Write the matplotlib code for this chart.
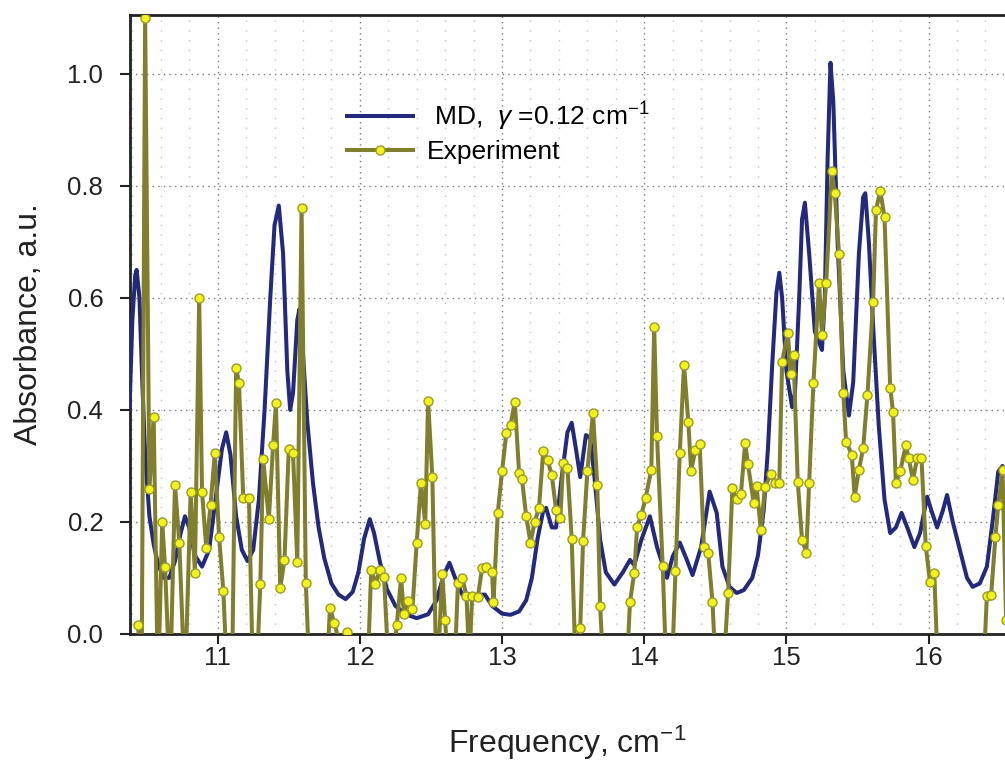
import matplotlib
matplotlib.use('Agg')
import matplotlib.pyplot as plt
from matplotlib.ticker import MultipleLocator

plt.rcParams['font.family'] = ['Liberation Sans', 'DejaVu Sans']
plt.rcParams['mathtext.fontset'] = 'custom'
plt.rcParams['mathtext.rm'] = 'Liberation Sans'
plt.rcParams['mathtext.it'] = 'Liberation Sans:italic'

# MD spectrum
md_x = [10.38, 10.40, 10.42, 10.43, 10.45, 10.47, 10.49, 10.52, 10.55, 10.58,
        10.62, 10.66, 10.70, 10.74, 10.77, 10.80, 10.84, 10.89, 10.94, 10.99,
        11.03, 11.06, 11.09, 11.13, 11.17, 11.21, 11.25, 11.29, 11.33, 11.37,
        11.40, 11.43, 11.46, 11.49, 11.51, 11.53, 11.56, 11.575, 11.60, 11.63,
        11.67, 11.71, 11.75, 11.80, 11.85, 11.90, 11.95, 11.99, 12.03, 12.07,
        12.10, 12.14, 12.19, 12.25, 12.32, 12.40, 12.48, 12.54, 12.59, 12.63,
        12.67, 12.72, 12.79, 12.84, 12.88, 12.93, 13.00, 13.06, 13.12, 13.17,
        13.21, 13.25, 13.29, 13.31, 13.35, 13.38, 13.42, 13.46, 13.49, 13.52,
        13.55, 13.59, 13.62, 13.65, 13.69, 13.73, 13.79, 13.85, 13.90, 13.93,
        13.98, 14.04, 14.09, 14.16, 14.20, 14.25, 14.30, 14.34, 14.40, 14.46,
        14.51, 14.55, 14.60, 14.65, 14.70, 14.76, 14.80, 14.84, 14.87, 14.90,
        14.93, 14.95, 14.97, 15.00, 15.04, 15.06, 15.09, 15.11, 15.13, 15.16,
        15.20, 15.25, 15.27, 15.29, 15.31, 15.33, 15.36, 15.40, 15.44, 15.47,
        15.51, 15.54, 15.555, 15.58, 15.61, 15.65, 15.69, 15.73, 15.77, 15.81,
        15.85, 15.90, 15.94, 15.99, 16.02, 16.06, 16.10, 16.13, 16.17, 16.22,
        16.27, 16.31, 16.36, 16.41, 16.45, 16.49, 16.52, 16.56]
md_y = [0.40, 0.56, 0.64, 0.65, 0.60, 0.45, 0.32, 0.21, 0.16, 0.125,
        0.10, 0.10, 0.13, 0.18, 0.21, 0.19, 0.14, 0.12, 0.15, 0.25,
        0.33, 0.36, 0.32, 0.21, 0.15, 0.13, 0.15, 0.24, 0.40, 0.60,
        0.73, 0.765, 0.68, 0.47, 0.40, 0.43, 0.56, 0.58, 0.50, 0.38,
        0.27, 0.19, 0.135, 0.09, 0.07, 0.062, 0.075, 0.11, 0.17, 0.205,
        0.18, 0.13, 0.08, 0.05, 0.035, 0.028, 0.035, 0.06, 0.105, 0.127,
        0.10, 0.07, 0.06, 0.07, 0.07, 0.05, 0.036, 0.034, 0.04, 0.06,
        0.10, 0.17, 0.22, 0.225, 0.19, 0.19, 0.28, 0.36, 0.377, 0.33,
        0.28, 0.355, 0.35, 0.28, 0.168, 0.11, 0.088, 0.11, 0.132, 0.123,
        0.168, 0.21, 0.155, 0.10, 0.138, 0.163, 0.132, 0.105, 0.155, 0.254,
        0.216, 0.12, 0.084, 0.073, 0.078, 0.10, 0.14, 0.22, 0.33, 0.48,
        0.61, 0.645, 0.60, 0.47, 0.405, 0.43, 0.60, 0.74, 0.77, 0.68,
        0.54, 0.507, 0.60, 0.85, 1.02, 0.95, 0.70, 0.47, 0.39, 0.45,
        0.68, 0.78, 0.787, 0.70, 0.55, 0.37, 0.24, 0.18, 0.19, 0.216,
        0.19, 0.155, 0.18, 0.245, 0.22, 0.19, 0.22, 0.248, 0.20, 0.15,
        0.10, 0.084, 0.09, 0.12, 0.20, 0.29, 0.30, 0.28]

# Experiment (points below zero are cut off by the axis)
exp_x = [10.44, 10.465, 10.49, 10.52, 10.55, 10.58, 10.61, 10.63, 10.665, 10.70,
         10.73, 10.77, 10.81, 10.84, 10.87, 10.89, 10.92, 10.95, 10.98, 11.01,
         11.04, 11.07, 11.10, 11.13, 11.15, 11.18, 11.22, 11.25, 11.27, 11.30,
         11.32, 11.36, 11.39, 11.41, 11.44, 11.47, 11.50, 11.53, 11.56, 11.59,
         11.62, 11.65, 11.70, 11.76, 11.79, 11.82, 11.86, 11.91, 11.95, 12.00,
         12.05, 12.08, 12.11, 12.14, 12.17, 12.21, 12.26, 12.29, 12.31, 12.34,
         12.37, 12.40, 12.43, 12.46, 12.48, 12.51, 12.54, 12.58, 12.60, 12.63,
         12.66, 12.69, 12.72, 12.75, 12.77, 12.79, 12.83, 12.86, 12.89, 12.93,
         12.94, 12.97, 13.00, 13.03, 13.06, 13.09, 13.12, 13.14, 13.17, 13.20,
         13.23, 13.26, 13.29, 13.32, 13.35, 13.38, 13.41, 13.43, 13.46, 13.49,
         13.52, 13.55, 13.57, 13.60, 13.64, 13.67, 13.69, 13.72, 13.80, 13.87,
         13.90, 13.93, 13.95, 13.98, 14.01, 14.05, 14.07, 14.09, 14.13, 14.16,
         14.19, 14.22, 14.25, 14.28, 14.31, 14.33, 14.36, 14.39, 14.42, 14.45,
         14.48, 14.51, 14.55, 14.59, 14.62, 14.65, 14.68, 14.71, 14.73, 14.77,
         14.79, 14.82, 14.85, 14.89, 14.92, 14.95, 14.97, 15.01, 15.03, 15.05,
         15.08, 15.11, 15.14, 15.16, 15.19, 15.23, 15.25, 15.28, 15.32, 15.34,
         15.37, 15.40, 15.42, 15.46, 15.48, 15.51, 15.54, 15.57, 15.61, 15.63,
         15.66, 15.69, 15.73, 15.75, 15.77, 15.80, 15.84, 15.86, 15.89, 15.92,
         15.95, 15.98, 16.01, 16.04, 16.07, 16.20, 16.38, 16.41, 16.44, 16.47,
         16.49, 16.52, 16.545]
exp_y = [0.016, -0.10, 1.10, 0.258, 0.387, -0.10, 0.20, 0.12, -0.10, 0.266,
         0.163, -0.10, 0.254, 0.109, 0.60, 0.254, 0.153, 0.23, 0.323, 0.173,
         0.077, -0.10, -0.10, 0.475, 0.448, 0.243, 0.243, -0.10, -0.10, 0.089,
         0.312, 0.205, 0.337, 0.412, 0.082, 0.132, 0.33, 0.323, 0.128, 0.76,
         0.091, -0.10, -0.10, -0.10, 0.046, 0.02, -0.02, 0.004, -0.10, -0.10,
         -0.10, 0.114, 0.089, 0.114, 0.102, -0.10, 0.016, 0.10, 0.036, 0.059,
         0.045, 0.163, 0.27, 0.196, 0.416, 0.28, -0.10, 0.107, 0.025, -0.10,
         -0.10, 0.091, 0.10, 0.068, -0.05, 0.068, 0.066, 0.118, 0.12, 0.11,
         0.057, 0.216, 0.29, 0.358, 0.373, 0.415, 0.287, 0.277, 0.21, 0.163,
         0.20, 0.225, 0.327, 0.31, 0.284, 0.221, 0.207, 0.305, 0.296, 0.17,
         -0.08, 0.01, 0.166, 0.29, 0.394, 0.266, 0.05, -0.10, -0.10, -0.10,
         0.057, 0.109, 0.19, 0.213, 0.243, 0.293, 0.548, 0.353, 0.121, -0.10,
         -0.10, 0.112, 0.323, 0.48, 0.379, 0.291, 0.329, 0.339, 0.155, 0.145,
         0.057, -0.10, -0.10, 0.073, 0.26, 0.24, 0.25, 0.34, 0.303, 0.233,
         0.264, 0.186, 0.263, 0.285, 0.27, 0.27, 0.486, 0.538, 0.464, 0.498,
         0.271, 0.168, 0.145, 0.27, 0.448, 0.627, 0.534, 0.627, 0.827, 0.787,
         0.679, 0.43, 0.343, 0.32, 0.245, 0.293, 0.332, 0.427, 0.593, 0.757,
         0.791, 0.745, 0.44, 0.396, 0.27, 0.29, 0.337, 0.314, 0.275, 0.314,
         0.314, 0.157, 0.093, 0.109, -0.10, -0.10, -0.10, 0.068, 0.07, 0.173,
         0.23, 0.293, 0.025]

fig = plt.figure(figsize=(10.05, 7.6), dpi=100)
ax = fig.add_axes([0.129, 0.166, 0.894, 0.814])

ax.plot(md_x, md_y, color='#232a7e', linewidth=2.9,
        label=r' MD,  $\gamma$ =0.12 cm$^{-1}$', zorder=3)
ax.plot(exp_x, exp_y, color='#7f7f2e', linewidth=2.9, marker='o',
        markersize=6.5, markerfacecolor='#f2f21c', markeredgecolor='#9a9a28',
        markeredgewidth=1.0, label='Experiment', zorder=4)

ax.set_xlim(10.381, 16.70)
ax.set_ylim(0, 1.105)
ax.xaxis.set_major_locator(MultipleLocator(1))
ax.xaxis.set_minor_locator(MultipleLocator(0.2))
ax.yaxis.set_major_locator(MultipleLocator(0.2))
ax.yaxis.set_major_formatter(plt.FormatStrFormatter('%.1f'))

ax.grid(True, which='major', color='#7a7a7a', linestyle=(0, (1, 3)), linewidth=1.0)
ax.grid(True, which='minor', axis='x', color='#c4c4c4', linestyle=(0, (1, 6)), linewidth=1.0)
ax.set_axisbelow(True)

ax.tick_params(axis='both', which='major', direction='out', length=7, width=1.5,
               labelsize=18.5, colors='#222222')
ax.tick_params(axis='both', which='minor', length=0)
ax.tick_params(axis='y', pad=12)
ax.tick_params(axis='x', pad=2)
for side in ['left', 'bottom', 'top']:
    ax.spines[side].set_linewidth(2)
    ax.spines[side].set_color('#222222')
ax.spines['right'].set_visible(False)

ax.set_xlabel(r'Frequency, cm$^{-1}$', fontsize=23, color='#222222')
ax.set_ylabel('Absorbance, a.u.', fontsize=23, color='#222222')
ax.xaxis.set_label_coords(0.487, -0.145)
ax.yaxis.set_label_coords(-0.095, 0.5)

ax.legend(loc='upper left', bbox_to_anchor=(0.345, 0.868), bbox_transform=fig.transFigure,
          frameon=False, fontsize=19, handlelength=2.5, handletextpad=0.55,
          labelspacing=0.3, borderpad=0, borderaxespad=0)

fig.savefig('out.png', dpi=100)
